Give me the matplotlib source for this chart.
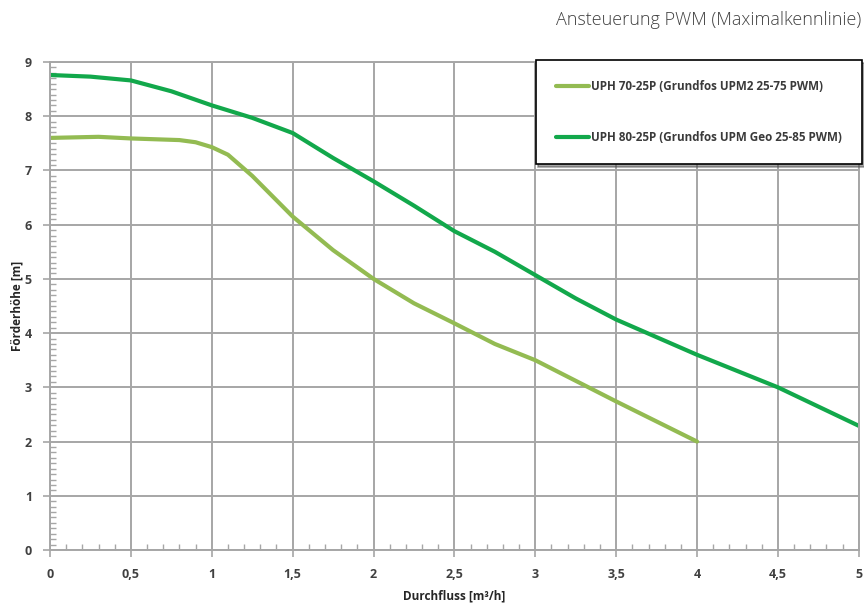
import matplotlib
matplotlib.use("Agg")
import matplotlib.pyplot as plt
from matplotlib.ticker import MultipleLocator, FuncFormatter

# data
x_70 = [0, 0.3, 0.5, 0.8, 0.9, 1.0, 1.1, 1.25, 1.5, 1.75, 2.0, 2.25, 2.5, 2.75, 3.0, 3.5, 4.0]
y_70 = [7.60, 7.62, 7.59, 7.56, 7.52, 7.43, 7.29, 6.9, 6.15, 5.53, 5.0, 4.55, 4.18, 3.8, 3.5, 2.74, 2.0]

x_80 = [0, 0.25, 0.5, 0.75, 1.0, 1.25, 1.5, 1.75, 2.0, 2.25, 2.5, 2.75, 3.0, 3.25, 3.5, 4.0, 4.5, 5.0]
y_80 = [8.76, 8.73, 8.66, 8.46, 8.2, 7.97, 7.69, 7.23, 6.8, 6.35, 5.88, 5.5, 5.07, 4.64, 4.25, 3.6, 3.0, 2.29]

label_70 = "UPH 70-25P (Grundfos UPM2 25-75 PWM)"
label_80 = "UPH 80-25P (Grundfos UPM Geo 25-85 PWM)"

plt.rcParams["font.family"] = ["Open Sans", "DejaVu Sans"]

fig = plt.figure(figsize=(8.64, 6.06), dpi=100)
ax = fig.add_axes([0.0579, 0.0924, 0.9361, 0.8053])

grid_c = "#a6a6a6"
ax.plot(x_70, y_70, color="#93bb52", lw=3, label=label_70, solid_capstyle="round")
ax.plot(x_80, y_80, color="#12a84b", lw=3, label=label_80, solid_capstyle="round")

ax.set_xlim(0, 5)
ax.set_ylim(0, 9)
ax.xaxis.set_major_locator(MultipleLocator(0.5))
ax.xaxis.set_minor_locator(MultipleLocator(0.1))
ax.yaxis.set_major_locator(MultipleLocator(1))
ax.yaxis.set_minor_locator(MultipleLocator(0.1))
ax.xaxis.set_major_formatter(FuncFormatter(lambda v, p: f"{v:g}".replace(".", ",")))
ax.grid(True, which="major", color=grid_c, lw=1.4)
ax.set_axisbelow(True)
for s in ax.spines.values():
    s.set_color(grid_c)
    s.set_linewidth(1.4)

ax.tick_params(which="major", direction="out", length=5, color=grid_c, width=1.2,
               labelsize=9, labelcolor="#404040")
ax.tick_params(which="minor", direction="in", length=4, color=grid_c, width=1)
for lab in ax.get_xticklabels() + ax.get_yticklabels():
    lab.set_fontweight("bold")
ax.tick_params(axis="x", pad=8)
ax.tick_params(axis="y", pad=8)

ax.set_xlabel("Durchfluss [m³/h]", fontsize=8.5, fontweight="bold", color="#262626", labelpad=6)
ax.set_ylabel("Förderhöhe [m]", fontsize=8.5, fontweight="bold", color="#262626", labelpad=1)

fig.text(0.997, 0.967, "Ansteuerung PWM (Maximalkennlinie)", ha="right", va="center",
         fontsize=13, fontweight="light", color="#404040")

leg = ax.legend(loc="upper right", bbox_to_anchor=(0.9975, 0.901), bbox_transform=fig.transFigure,
                frameon=True, fancybox=False, shadow=True, edgecolor="black",
                handlelength=2.9, handletextpad=0.15, labelspacing=3.3,
                borderpad=1.7, borderaxespad=0, prop={"size": 8.4, "weight": "bold"})
leg.get_frame().set_linewidth(1.2)
for t in leg.get_texts():
    t.set_color("#3a3a3a")

fig.savefig("out.png", dpi=100)
plt.close()
